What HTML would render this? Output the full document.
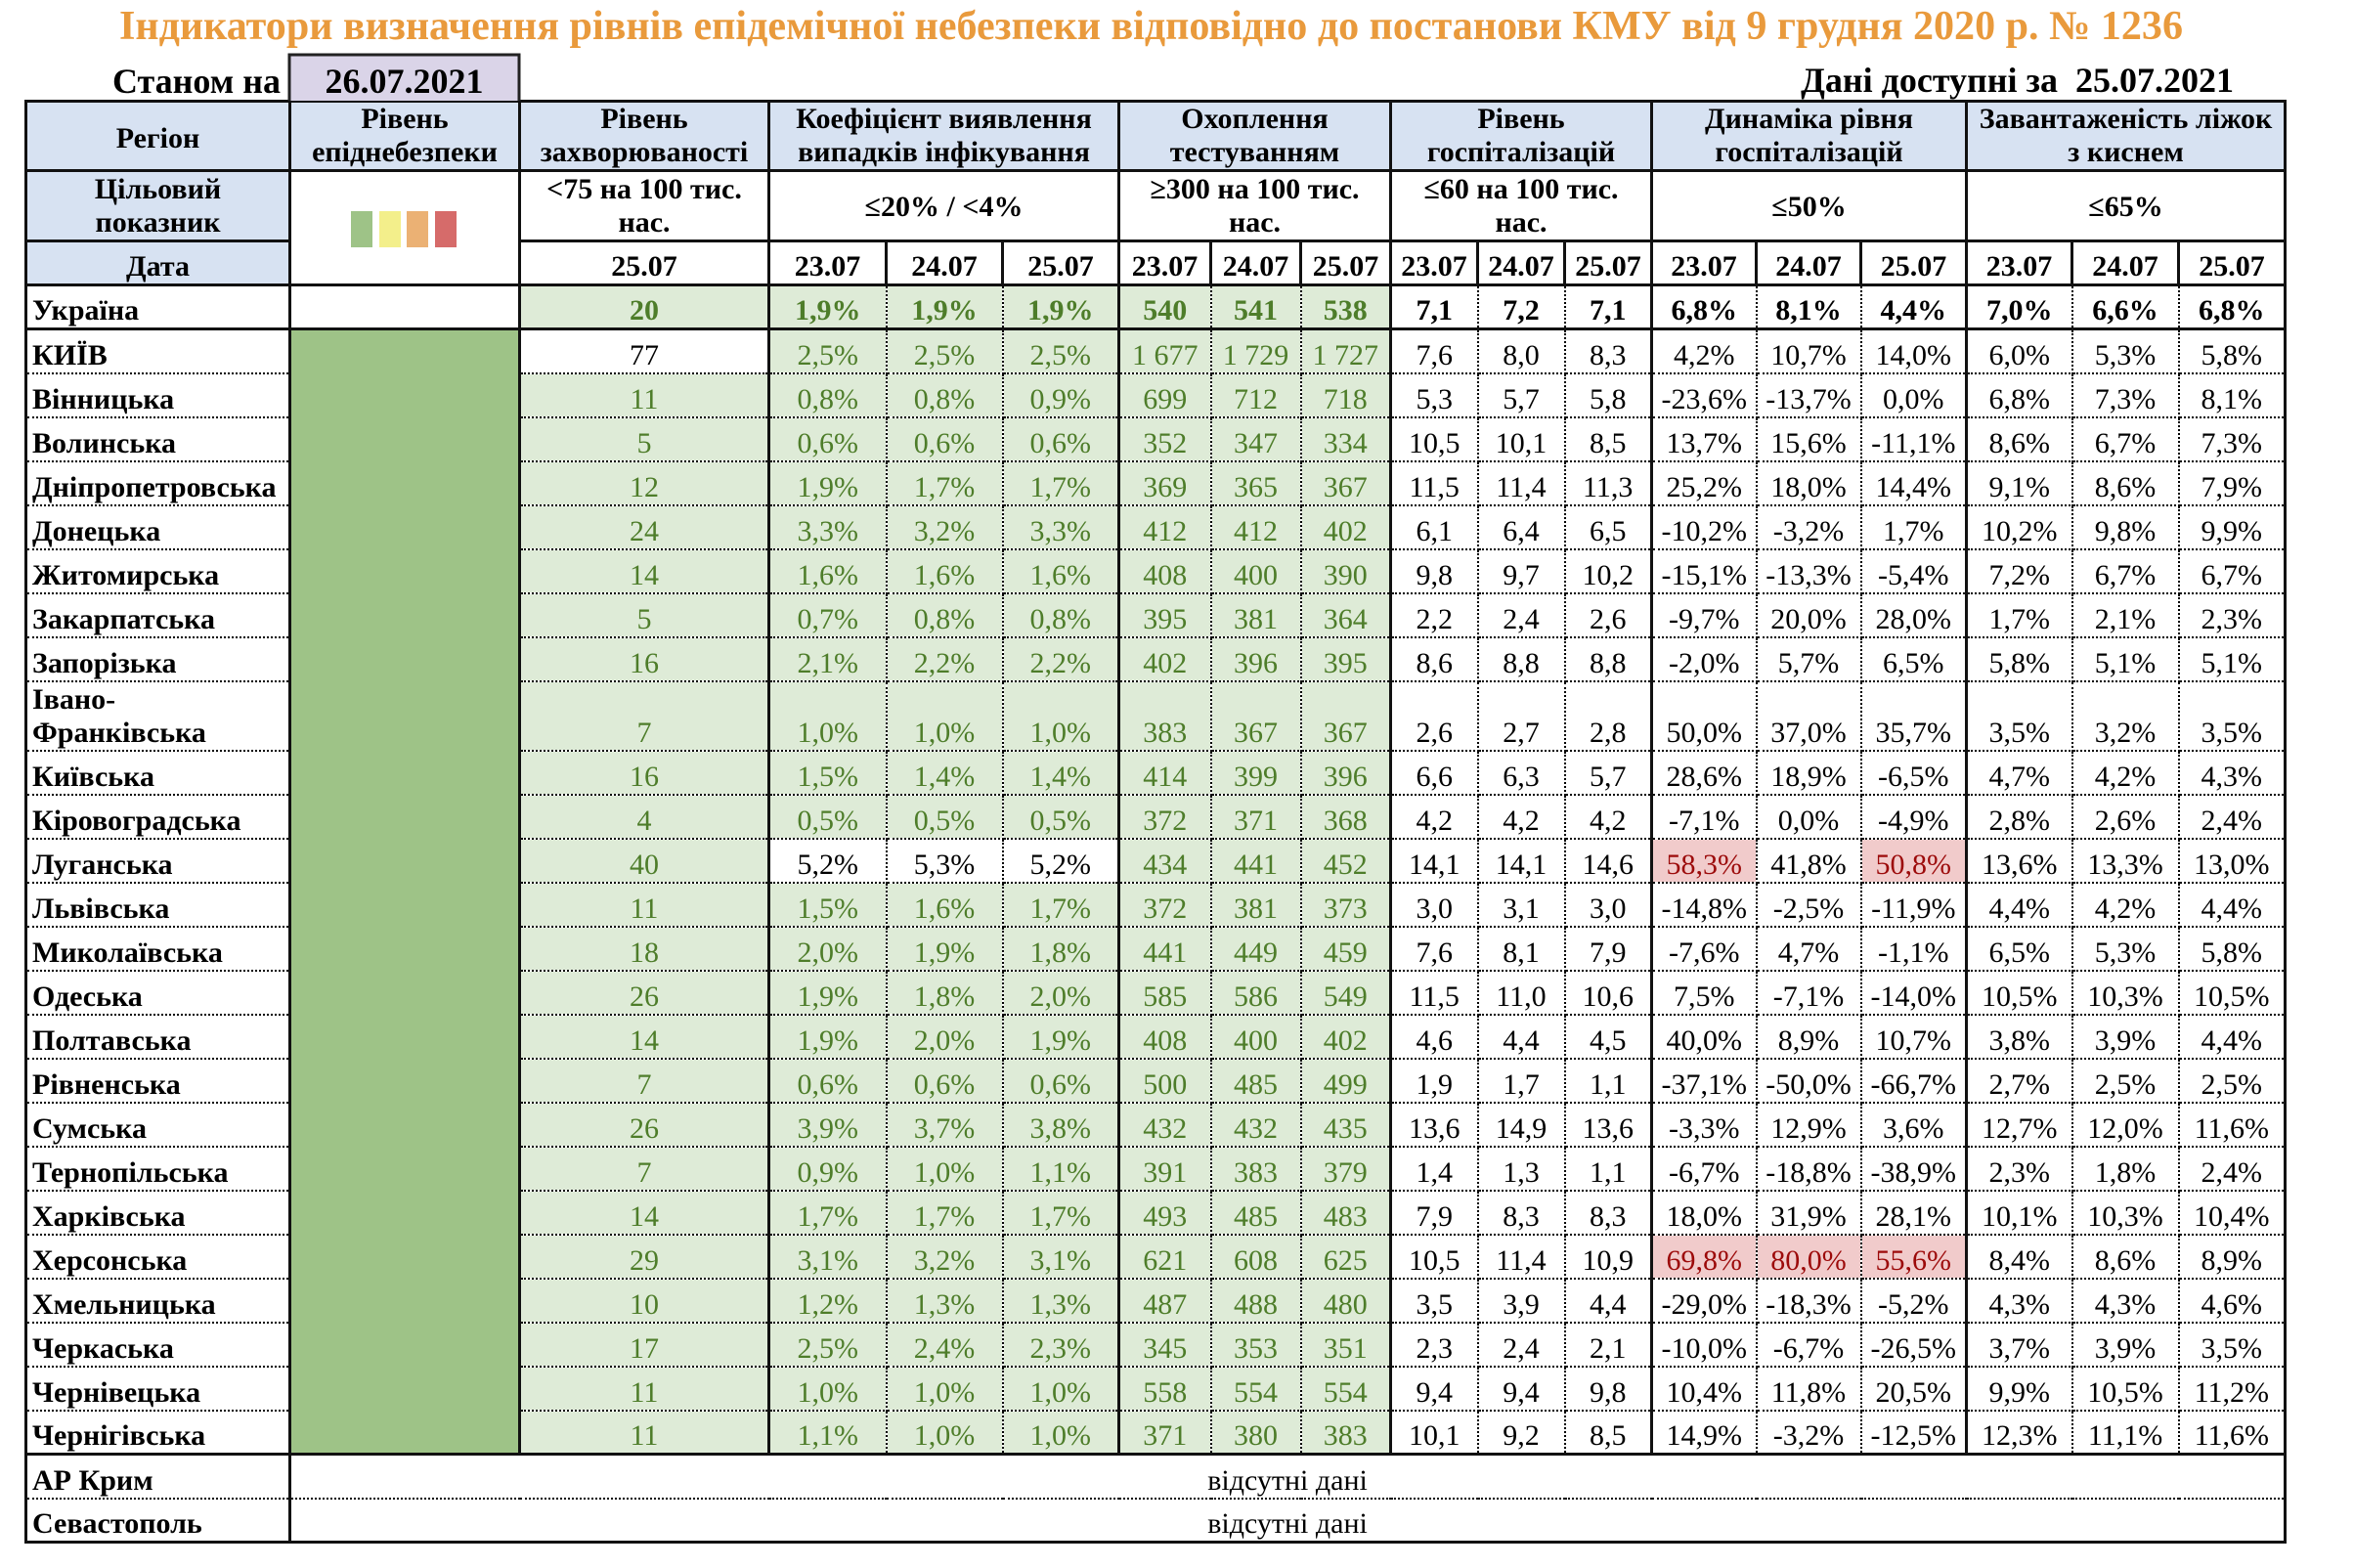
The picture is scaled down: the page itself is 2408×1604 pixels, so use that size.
<!DOCTYPE html>
<html>
<head>
<meta charset="utf-8">
<style>
html,body{margin:0;padding:0;}
body{width:2408px;height:1604px;background:#fff;position:relative;overflow:hidden;font-family:"Liberation Serif","Noto Serif CJK SC",serif;}
table{position:absolute;left:25px;top:102px;border-collapse:collapse;table-layout:fixed;width:2314px;}
td{padding:0 2px 0 2px;font-size:30px;line-height:34px;text-align:center;vertical-align:bottom;overflow:hidden;white-space:nowrap;color:#000;}
.h td{border:3px solid #111;font-weight:bold;}
.h td.bl{background:#D7E2F2;}
.b td{border:2px dotted #000;}
.b td:nth-child(1){text-align:left;padding-left:5px;font-weight:bold;border-left:3px solid #111;}
.b td:nth-child(2),.b td:nth-child(3),.b td:nth-child(4),.b td:nth-child(7),.b td:nth-child(10),.b td:nth-child(13),.b td:nth-child(16){border-left:3px solid #111;}
.b td:nth-child(18){border-right:3px solid #111;}
.b td:nth-child(n+3):nth-child(-n+9){background:#DEEBD7;color:#4E7D2A;}
.b td:nth-child(2){background:#9EC387;border-top:none;border-bottom:none;}
.u td{font-weight:bold;border-bottom:3px solid #111;}
.u td:nth-child(2){background:#fff;border-bottom:3px solid #111;}
.w{background:#fff!important;color:#000!important;}
.p{background:#F1CBCB!important;color:#9C0A0A!important;}
.x td{border:2px dotted #000;}
.x td:nth-child(1){text-align:left;padding-left:5px;font-weight:bold;border-left:3px solid #111;}
.x td:nth-child(2){border-left:3px solid #111;border-right:3px solid #111;}
.k td{border-top:3px solid #111;}
.s td{border-bottom:3px solid #111;}
tr.b,tr.x{height:45px;}
</style>
</head>
<body>
<table>
<colgroup>
<col style="width:270px"><col style="width:235px"><col style="width:255px">
<col style="width:120px"><col style="width:119px"><col style="width:119px">
<col style="width:94px"><col style="width:92px"><col style="width:92px">
<col style="width:89px"><col style="width:89px"><col style="width:89px">
<col style="width:107px"><col style="width:107px"><col style="width:108px">
<col style="width:108px"><col style="width:109px"><col style="width:109px">
</colgroup>
<tr class="h" style="height:71px">
<td class="bl" style="padding-bottom:14px">Регіон</td>
<td class="bl">Рівень<br>епіднебезпеки</td>
<td class="bl">Рівень<br>захворюваності</td>
<td class="bl" colspan="3">Коефіцієнт виявлення<br>випадків інфікування</td>
<td class="bl" colspan="3">Охоплення<br>тестуванням</td>
<td class="bl" colspan="3">Рівень<br>госпіталізацій</td>
<td class="bl" colspan="3">Динаміка рівня<br>госпіталізацій</td>
<td class="bl" colspan="3">Завантаженість ліжок<br>з киснем</td>
</tr>
<tr class="h" style="height:72px">
<td class="bl">Цільовий<br>показник</td>
<td rowspan="2"></td>
<td>&lt;75 на 100 тис.<br>нас.</td>
<td colspan="3" style="padding-bottom:16px">≤20% / &lt;4%</td>
<td colspan="3">≥300 на 100 тис.<br>нас.</td>
<td colspan="3">≤60 на 100 тис.<br>нас.</td>
<td colspan="3" style="padding-bottom:16px">≤50%</td>
<td colspan="3" style="padding-bottom:16px">≤65%</td>
</tr>
<tr class="h" style="height:45px">
<td class="bl">Дата</td>
<td>25.07</td>
<td>23.07</td><td>24.07</td><td>25.07</td>
<td>23.07</td><td>24.07</td><td>25.07</td>
<td>23.07</td><td>24.07</td><td>25.07</td>
<td>23.07</td><td>24.07</td><td>25.07</td>
<td>23.07</td><td>24.07</td><td>25.07</td>
</tr>
<tr class="b u"><td>Україна</td><td></td><td>20</td><td>1,9%</td><td>1,9%</td><td>1,9%</td><td>540</td><td>541</td><td>538</td><td>7,1</td><td>7,2</td><td>7,1</td><td>6,8%</td><td>8,1%</td><td>4,4%</td><td>7,0%</td><td>6,6%</td><td>6,8%</td></tr>
<tr class="b"><td>КИЇВ</td><td></td><td class="w">77</td><td>2,5%</td><td>2,5%</td><td>2,5%</td><td>1 677</td><td>1 729</td><td>1 727</td><td>7,6</td><td>8,0</td><td>8,3</td><td>4,2%</td><td>10,7%</td><td>14,0%</td><td>6,0%</td><td>5,3%</td><td>5,8%</td></tr>
<tr class="b"><td>Вінницька</td><td></td><td>11</td><td>0,8%</td><td>0,8%</td><td>0,9%</td><td>699</td><td>712</td><td>718</td><td>5,3</td><td>5,7</td><td>5,8</td><td>-23,6%</td><td>-13,7%</td><td>0,0%</td><td>6,8%</td><td>7,3%</td><td>8,1%</td></tr>
<tr class="b"><td>Волинська</td><td></td><td>5</td><td>0,6%</td><td>0,6%</td><td>0,6%</td><td>352</td><td>347</td><td>334</td><td>10,5</td><td>10,1</td><td>8,5</td><td>13,7%</td><td>15,6%</td><td>-11,1%</td><td>8,6%</td><td>6,7%</td><td>7,3%</td></tr>
<tr class="b"><td>Дніпропетровська</td><td></td><td>12</td><td>1,9%</td><td>1,7%</td><td>1,7%</td><td>369</td><td>365</td><td>367</td><td>11,5</td><td>11,4</td><td>11,3</td><td>25,2%</td><td>18,0%</td><td>14,4%</td><td>9,1%</td><td>8,6%</td><td>7,9%</td></tr>
<tr class="b"><td>Донецька</td><td></td><td>24</td><td>3,3%</td><td>3,2%</td><td>3,3%</td><td>412</td><td>412</td><td>402</td><td>6,1</td><td>6,4</td><td>6,5</td><td>-10,2%</td><td>-3,2%</td><td>1,7%</td><td>10,2%</td><td>9,8%</td><td>9,9%</td></tr>
<tr class="b"><td>Житомирська</td><td></td><td>14</td><td>1,6%</td><td>1,6%</td><td>1,6%</td><td>408</td><td>400</td><td>390</td><td>9,8</td><td>9,7</td><td>10,2</td><td>-15,1%</td><td>-13,3%</td><td>-5,4%</td><td>7,2%</td><td>6,7%</td><td>6,7%</td></tr>
<tr class="b"><td>Закарпатська</td><td></td><td>5</td><td>0,7%</td><td>0,8%</td><td>0,8%</td><td>395</td><td>381</td><td>364</td><td>2,2</td><td>2,4</td><td>2,6</td><td>-9,7%</td><td>20,0%</td><td>28,0%</td><td>1,7%</td><td>2,1%</td><td>2,3%</td></tr>
<tr class="b"><td>Запорізька</td><td></td><td>16</td><td>2,1%</td><td>2,2%</td><td>2,2%</td><td>402</td><td>396</td><td>395</td><td>8,6</td><td>8,8</td><td>8,8</td><td>-2,0%</td><td>5,7%</td><td>6,5%</td><td>5,8%</td><td>5,1%</td><td>5,1%</td></tr>
<tr class="b" style="height:71px"><td>Івано-<br>Франківська</td><td></td><td>7</td><td>1,0%</td><td>1,0%</td><td>1,0%</td><td>383</td><td>367</td><td>367</td><td>2,6</td><td>2,7</td><td>2,8</td><td>50,0%</td><td>37,0%</td><td>35,7%</td><td>3,5%</td><td>3,2%</td><td>3,5%</td></tr>
<tr class="b"><td>Київська</td><td></td><td>16</td><td>1,5%</td><td>1,4%</td><td>1,4%</td><td>414</td><td>399</td><td>396</td><td>6,6</td><td>6,3</td><td>5,7</td><td>28,6%</td><td>18,9%</td><td>-6,5%</td><td>4,7%</td><td>4,2%</td><td>4,3%</td></tr>
<tr class="b"><td>Кіровоградська</td><td></td><td>4</td><td>0,5%</td><td>0,5%</td><td>0,5%</td><td>372</td><td>371</td><td>368</td><td>4,2</td><td>4,2</td><td>4,2</td><td>-7,1%</td><td>0,0%</td><td>-4,9%</td><td>2,8%</td><td>2,6%</td><td>2,4%</td></tr>
<tr class="b"><td>Луганська</td><td></td><td>40</td><td class="w">5,2%</td><td class="w">5,3%</td><td class="w">5,2%</td><td>434</td><td>441</td><td>452</td><td>14,1</td><td>14,1</td><td>14,6</td><td class="p">58,3%</td><td>41,8%</td><td class="p">50,8%</td><td>13,6%</td><td>13,3%</td><td>13,0%</td></tr>
<tr class="b"><td>Львівська</td><td></td><td>11</td><td>1,5%</td><td>1,6%</td><td>1,7%</td><td>372</td><td>381</td><td>373</td><td>3,0</td><td>3,1</td><td>3,0</td><td>-14,8%</td><td>-2,5%</td><td>-11,9%</td><td>4,4%</td><td>4,2%</td><td>4,4%</td></tr>
<tr class="b"><td>Миколаївська</td><td></td><td>18</td><td>2,0%</td><td>1,9%</td><td>1,8%</td><td>441</td><td>449</td><td>459</td><td>7,6</td><td>8,1</td><td>7,9</td><td>-7,6%</td><td>4,7%</td><td>-1,1%</td><td>6,5%</td><td>5,3%</td><td>5,8%</td></tr>
<tr class="b"><td>Одеська</td><td></td><td>26</td><td>1,9%</td><td>1,8%</td><td>2,0%</td><td>585</td><td>586</td><td>549</td><td>11,5</td><td>11,0</td><td>10,6</td><td>7,5%</td><td>-7,1%</td><td>-14,0%</td><td>10,5%</td><td>10,3%</td><td>10,5%</td></tr>
<tr class="b"><td>Полтавська</td><td></td><td>14</td><td>1,9%</td><td>2,0%</td><td>1,9%</td><td>408</td><td>400</td><td>402</td><td>4,6</td><td>4,4</td><td>4,5</td><td>40,0%</td><td>8,9%</td><td>10,7%</td><td>3,8%</td><td>3,9%</td><td>4,4%</td></tr>
<tr class="b"><td>Рівненська</td><td></td><td>7</td><td>0,6%</td><td>0,6%</td><td>0,6%</td><td>500</td><td>485</td><td>499</td><td>1,9</td><td>1,7</td><td>1,1</td><td>-37,1%</td><td>-50,0%</td><td>-66,7%</td><td>2,7%</td><td>2,5%</td><td>2,5%</td></tr>
<tr class="b"><td>Сумська</td><td></td><td>26</td><td>3,9%</td><td>3,7%</td><td>3,8%</td><td>432</td><td>432</td><td>435</td><td>13,6</td><td>14,9</td><td>13,6</td><td>-3,3%</td><td>12,9%</td><td>3,6%</td><td>12,7%</td><td>12,0%</td><td>11,6%</td></tr>
<tr class="b"><td>Тернопільська</td><td></td><td>7</td><td>0,9%</td><td>1,0%</td><td>1,1%</td><td>391</td><td>383</td><td>379</td><td>1,4</td><td>1,3</td><td>1,1</td><td>-6,7%</td><td>-18,8%</td><td>-38,9%</td><td>2,3%</td><td>1,8%</td><td>2,4%</td></tr>
<tr class="b"><td>Харківська</td><td></td><td>14</td><td>1,7%</td><td>1,7%</td><td>1,7%</td><td>493</td><td>485</td><td>483</td><td>7,9</td><td>8,3</td><td>8,3</td><td>18,0%</td><td>31,9%</td><td>28,1%</td><td>10,1%</td><td>10,3%</td><td>10,4%</td></tr>
<tr class="b"><td>Херсонська</td><td></td><td>29</td><td>3,1%</td><td>3,2%</td><td>3,1%</td><td>621</td><td>608</td><td>625</td><td>10,5</td><td>11,4</td><td>10,9</td><td class="p">69,8%</td><td class="p">80,0%</td><td class="p">55,6%</td><td>8,4%</td><td>8,6%</td><td>8,9%</td></tr>
<tr class="b"><td>Хмельницька</td><td></td><td>10</td><td>1,2%</td><td>1,3%</td><td>1,3%</td><td>487</td><td>488</td><td>480</td><td>3,5</td><td>3,9</td><td>4,4</td><td>-29,0%</td><td>-18,3%</td><td>-5,2%</td><td>4,3%</td><td>4,3%</td><td>4,6%</td></tr>
<tr class="b"><td>Черкаська</td><td></td><td>17</td><td>2,5%</td><td>2,4%</td><td>2,3%</td><td>345</td><td>353</td><td>351</td><td>2,3</td><td>2,4</td><td>2,1</td><td>-10,0%</td><td>-6,7%</td><td>-26,5%</td><td>3,7%</td><td>3,9%</td><td>3,5%</td></tr>
<tr class="b"><td>Чернівецька</td><td></td><td>11</td><td>1,0%</td><td>1,0%</td><td>1,0%</td><td>558</td><td>554</td><td>554</td><td>9,4</td><td>9,4</td><td>9,8</td><td>10,4%</td><td>11,8%</td><td>20,5%</td><td>9,9%</td><td>10,5%</td><td>11,2%</td></tr>
<tr class="b"><td>Чернігівська</td><td></td><td>11</td><td>1,1%</td><td>1,0%</td><td>1,0%</td><td>371</td><td>380</td><td>383</td><td>10,1</td><td>9,2</td><td>8,5</td><td>14,9%</td><td>-3,2%</td><td>-12,5%</td><td>12,3%</td><td>11,1%</td><td>11,6%</td></tr>
<tr class="x k"><td>АР Крим</td><td colspan="17">відсутні дані</td></tr>
<tr class="x s"><td>Севастополь</td><td colspan="17">відсутні дані</td></tr>
</table>
<svg style="position:absolute;left:0;top:0" width="2408" height="1604" xmlns="http://www.w3.org/2000/svg">
<text x="122" y="40" textLength="2111" lengthAdjust="spacingAndGlyphs" font-family="Liberation Serif, serif" font-size="42" font-weight="bold" fill="#E99A3C">Індикатори визначення рівнів епідемічної небезпеки відповідно до постанови КМУ від 9 грудня 2020 р. № 1236</text>
<rect x="296" y="56" width="235" height="47" fill="#DAD4E8"/>
<path d="M296 103 V56 H531 V103" fill="none" stroke="#222" stroke-width="3"/>
<text x="287" y="95" text-anchor="end" font-family="Liberation Serif, serif" font-size="36" font-weight="bold" fill="#000">Станом на</text>
<text x="413.5" y="95" text-anchor="middle" font-family="Liberation Serif, serif" font-size="36" font-weight="bold" fill="#000">26.07.2021</text>
<text x="2285" y="94" text-anchor="end" font-family="Liberation Serif, serif" font-size="36" font-weight="bold" fill="#000">Дані доступні за&#160; 25.07.2021</text>
<rect x="359" y="216" width="22" height="37" fill="#9EC387"/>
<rect x="388" y="216" width="22" height="37" fill="#F3EF8B"/>
<rect x="416" y="216" width="22" height="37" fill="#EBB174"/>
<rect x="445" y="216" width="22" height="37" fill="#D66B6A"/>
</svg>
</body>
</html>
